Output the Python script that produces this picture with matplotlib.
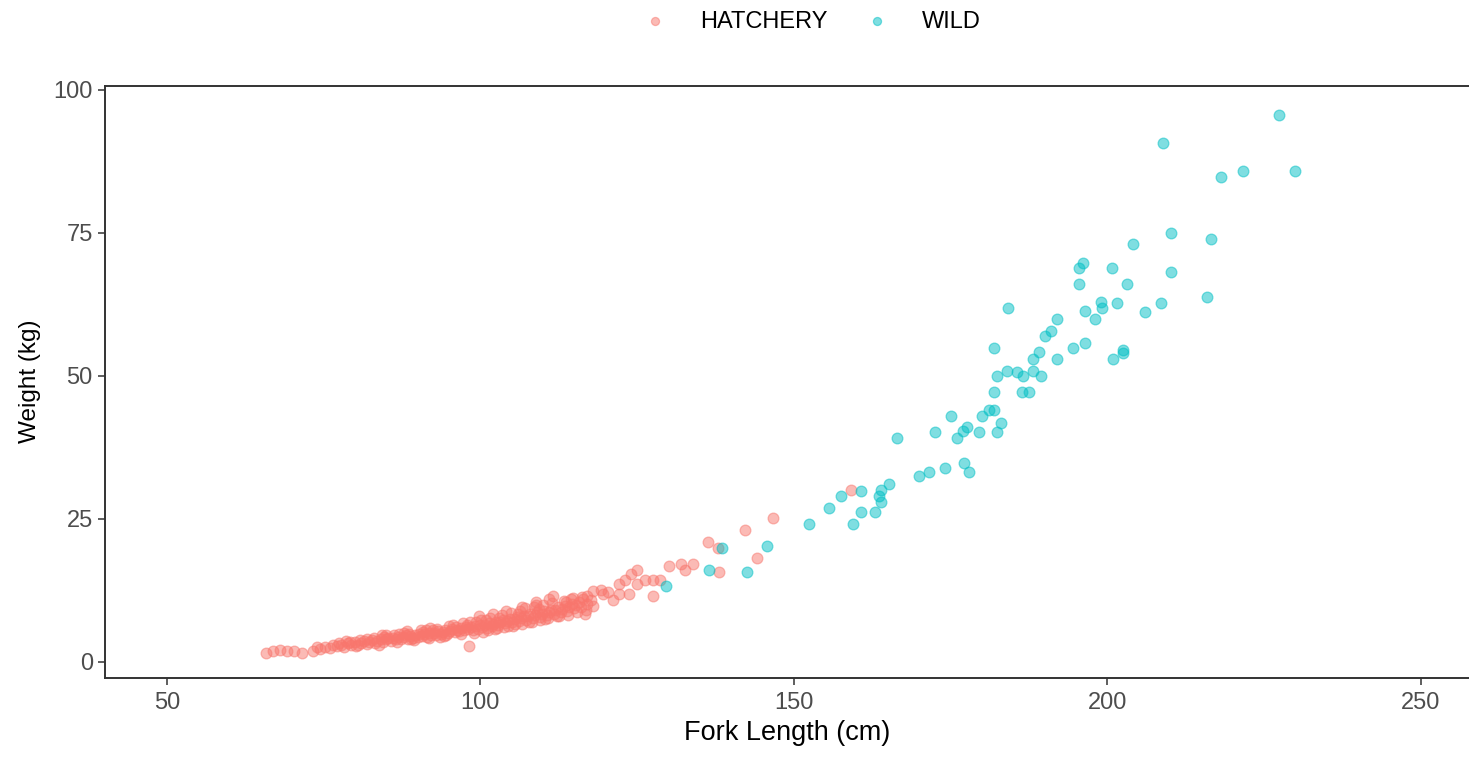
import matplotlib
matplotlib.use("Agg")
import matplotlib.pyplot as plt

plt.rcParams['font.family'] = ['Liberation Sans', 'DejaVu Sans']

# fork length (cm) / weight (kg)
hatch_len = [65.9, 67.0, 68.1, 69.1, 70.3, 71.5, 73.4, 73.9, 74.5, 75.2,
             76.0, 76.5, 77.1, 77.8, 78.3, 78.9, 79.4, 80.0, 80.5, 81.0,
             81.4, 81.9, 82.3, 82.8, 83.2, 83.6, 84.1, 84.5, 84.9, 85.3,
             85.7, 86.1, 86.5, 86.9, 87.3, 87.7, 88.1, 88.4, 88.8, 89.2,
             89.6, 90.0, 90.3, 90.7, 91.1, 91.5, 91.8, 92.2, 92.6, 93.0,
             93.3, 93.7, 94.1, 94.4, 94.8, 95.2, 95.5, 95.9, 96.3, 96.6,
             97.0, 97.4, 97.7, 98.1, 98.5, 98.8, 99.2, 99.6, 99.9, 100.3,
             100.7, 101.0, 101.4, 101.8, 102.1, 102.5, 102.9, 103.2, 103.6, 104.0,
             104.3, 104.7, 105.1, 105.4, 105.8, 106.2, 106.5, 106.9, 107.3, 107.6,
             108.0, 108.4, 108.7, 109.1, 109.5, 109.8, 110.2, 110.6, 110.9, 111.3,
             111.7, 112.0, 112.4, 112.8, 113.1, 113.5, 113.9, 114.2, 114.6, 115.0,
             115.3, 115.7, 116.1, 116.7, 117.1, 117.6, 118.0, 111.6, 98.2, 119.5,
             86.3, 88.6, 90.9, 92.4, 94.6, 96.1, 97.9, 99.4, 100.9, 102.7,
             104.5, 106.0, 107.8, 109.3, 110.4, 112.2, 113.7, 105.6, 103.0, 101.2,
             95.0, 93.5, 91.3, 89.0, 87.0, 84.7, 83.0, 80.8, 79.2, 77.5,
             119.2, 121.1, 122.1, 122.1, 123.1, 123.7, 125.0, 125.0, 126.2, 127.5,
             127.6, 128.6, 130.1, 132.0, 132.6, 133.9, 136.4, 137.9, 138.0, 142.2,
             144.1, 146.7, 159.1, 117.0, 118.0, 116.4, 114.8, 120.3, 124.0, 108.9,
             78.6, 80.2, 82.0, 83.9, 85.0, 86.7, 87.9, 89.4, 90.5, 91.9,
             93.1, 94.2, 95.7, 96.9, 98.3, 99.0, 100.1, 100.5, 101.6, 102.3,
             103.4, 103.8, 104.9, 105.2, 106.4, 106.7, 107.1, 108.2, 108.5, 109.6,
             110.0, 110.8, 111.5, 112.6, 113.3, 114.0, 114.4, 115.5, 116.3, 116.9,
             97.2, 99.8, 102.0, 104.1, 106.6, 108.9, 111.0, 92.0, 88.3, 84.3]
hatch_wt = [1.5, 1.9, 2.0, 1.8, 1.8, 1.6, 1.9, 2.5, 2.3, 2.6,
            2.4, 2.9, 2.7, 3.0, 2.6, 3.2, 2.9, 3.4, 2.9, 3.3,
            3.6, 3.1, 3.5, 3.8, 3.3, 3.7, 4.0, 3.5, 3.9, 4.2,
            3.7, 4.1, 3.9, 4.4, 3.9, 4.3, 4.6, 4.0, 4.5, 4.2,
            4.7, 4.3, 4.9, 4.5, 4.8, 4.3, 5.1, 4.7, 5.0, 4.6,
            5.3, 4.9, 5.2, 5.6, 5.0, 5.4, 5.8, 5.2, 5.6, 5.3,
            5.9, 5.5, 6.1, 5.7, 6.0, 5.5, 6.3, 5.8, 6.5, 6.0,
            6.4, 5.9, 6.8, 6.3, 6.6, 7.0, 6.4, 6.9, 7.3, 6.7,
            7.1, 7.5, 6.9, 7.4, 7.8, 7.1, 7.6, 8.0, 7.3, 7.9,
            8.3, 7.6, 8.1, 8.6, 7.8, 8.4, 8.9, 8.1, 8.6, 9.1,
            8.3, 9.0, 9.5, 8.6, 9.2, 9.8, 8.9, 9.6, 10.1, 9.3,
            9.9, 10.4, 9.5, 8.3, 10.1, 10.7, 9.8, 11.4, 2.7, 11.8,
            4.6, 4.8, 5.2, 5.5, 4.7, 6.1, 6.5, 7.0, 7.3, 5.9,
            6.3, 8.4, 7.0, 9.2, 7.5, 8.0, 10.4, 6.6, 7.7, 5.6,
            6.2, 4.4, 5.5, 3.9, 4.8, 4.3, 4.1, 3.8, 3.5, 3.3,
            12.5, 10.8, 11.8, 13.6, 14.3, 11.8, 16.0, 13.6, 14.3, 11.5,
            14.2, 14.2, 16.7, 17.0, 16.0, 17.0, 20.9, 19.8, 15.6, 23.0,
            18.1, 25.1, 30.0, 11.5, 12.4, 10.9, 11.2, 12.1, 15.3, 9.9,
            3.6, 2.7, 3.9, 3.0, 4.6, 3.5, 5.0, 3.8, 5.5, 4.1,
            5.8, 4.5, 6.4, 4.9, 6.9, 5.1, 7.3, 5.2, 7.6, 5.7,
            8.1, 6.1, 8.5, 6.3, 8.9, 6.6, 9.3, 7.0, 9.6, 7.3,
            9.9, 7.6, 10.3, 7.9, 10.6, 8.2, 10.9, 8.7, 11.3, 9.1,
            6.8, 7.9, 8.4, 8.9, 9.6, 10.4, 10.9, 5.9, 5.3, 4.7]

wild_len = [227.4, 208.9, 218.2, 221.7, 230.0, 210.2, 204.1, 216.6, 196.2, 195.5,
            200.7, 210.2, 195.5, 203.2, 184.1, 199.0, 199.1, 201.6, 208.6, 215.9,
            196.5, 192.0, 198.1, 206.0, 191.0, 190.1, 196.5, 194.6, 189.1, 188.2,
            192.0, 200.9, 202.5, 202.5, 184.0, 185.6, 186.6, 188.2, 189.4, 182.0,
            182.4, 182.0, 186.4, 187.5, 181.1, 182.0, 180.1, 183.1, 182.4, 175.1,
            177.6, 177.0, 176.0, 179.5, 172.6, 166.5, 170.0, 171.6, 174.1, 177.1,
            178.0, 165.2, 163.9, 163.6, 163.9, 160.7, 157.5, 155.6, 160.7, 162.9,
            159.4, 152.4, 145.7, 138.6, 136.5, 142.5, 129.6]
wild_wt = [95.7, 90.8, 84.8, 85.8, 85.8, 75.0, 73.0, 74.0, 69.8, 68.8,
           68.8, 68.1, 66.0, 66.0, 61.8, 62.9, 61.8, 62.8, 62.8, 63.8,
           61.4, 60.0, 60.0, 61.1, 57.9, 56.9, 55.8, 54.8, 54.1, 53.0,
           53.0, 53.0, 54.5, 54.0, 50.9, 50.6, 49.9, 50.9, 49.9, 54.8,
           49.9, 47.1, 47.1, 47.1, 44.1, 44.1, 42.9, 41.8, 40.1, 42.9,
           41.0, 40.3, 39.1, 40.1, 40.1, 39.1, 32.5, 33.1, 33.9, 34.8,
           33.1, 31.1, 30.0, 28.9, 27.9, 29.9, 28.9, 26.8, 26.1, 26.1,
           24.0, 24.0, 20.2, 19.8, 16.0, 15.6, 13.2]

groups = ["HATCHERY", "WILD"]
colors = ["#F8766D", "#00BFC4"]

fig = plt.figure(figsize=(14.69, 7.57), dpi=100)
ax = fig.add_axes([0.0717, 0.1048, 0.9283, 0.782])

for name, col, xs, ys in zip(groups, colors, [hatch_len, wild_len], [hatch_wt, wild_wt]):
    ax.scatter(xs, ys, s=60, color=col, alpha=0.5, edgecolors=col,
               linewidths=0.9, label=name)

ax.set_xlim(40.2, 257.7)
ax.set_ylim(-2.8, 100.75)
ax.set_xticks([50, 100, 150, 200, 250])
ax.set_yticks([0, 25, 50, 75, 100])

for side in ['left', 'bottom', 'top']:
    ax.spines[side].set_color('#333333')
    ax.spines[side].set_linewidth(1.4)
ax.spines['right'].set_visible(False)
ax.tick_params(colors='#333333', labelcolor='#4D4D4D', length=5, width=1.1,
               labelsize=17)
ax.tick_params(axis='x', pad=5)
ax.tick_params(axis='y', pad=4)

ax.set_xlabel("Fork Length (cm)", fontsize=19.5, labelpad=5)
ax.set_ylabel("Weight (kg)", fontsize=17.5, labelpad=9)

handles, labels = ax.get_legend_handles_labels()
leg = fig.legend(handles, labels, loc='upper center', bbox_to_anchor=(0.549, 1.014),
                 ncol=2, frameon=False, fontsize=17, markerscale=0.75,
                 handletextpad=0.9, columnspacing=1.1)

fig.savefig("out.png", dpi=100)
